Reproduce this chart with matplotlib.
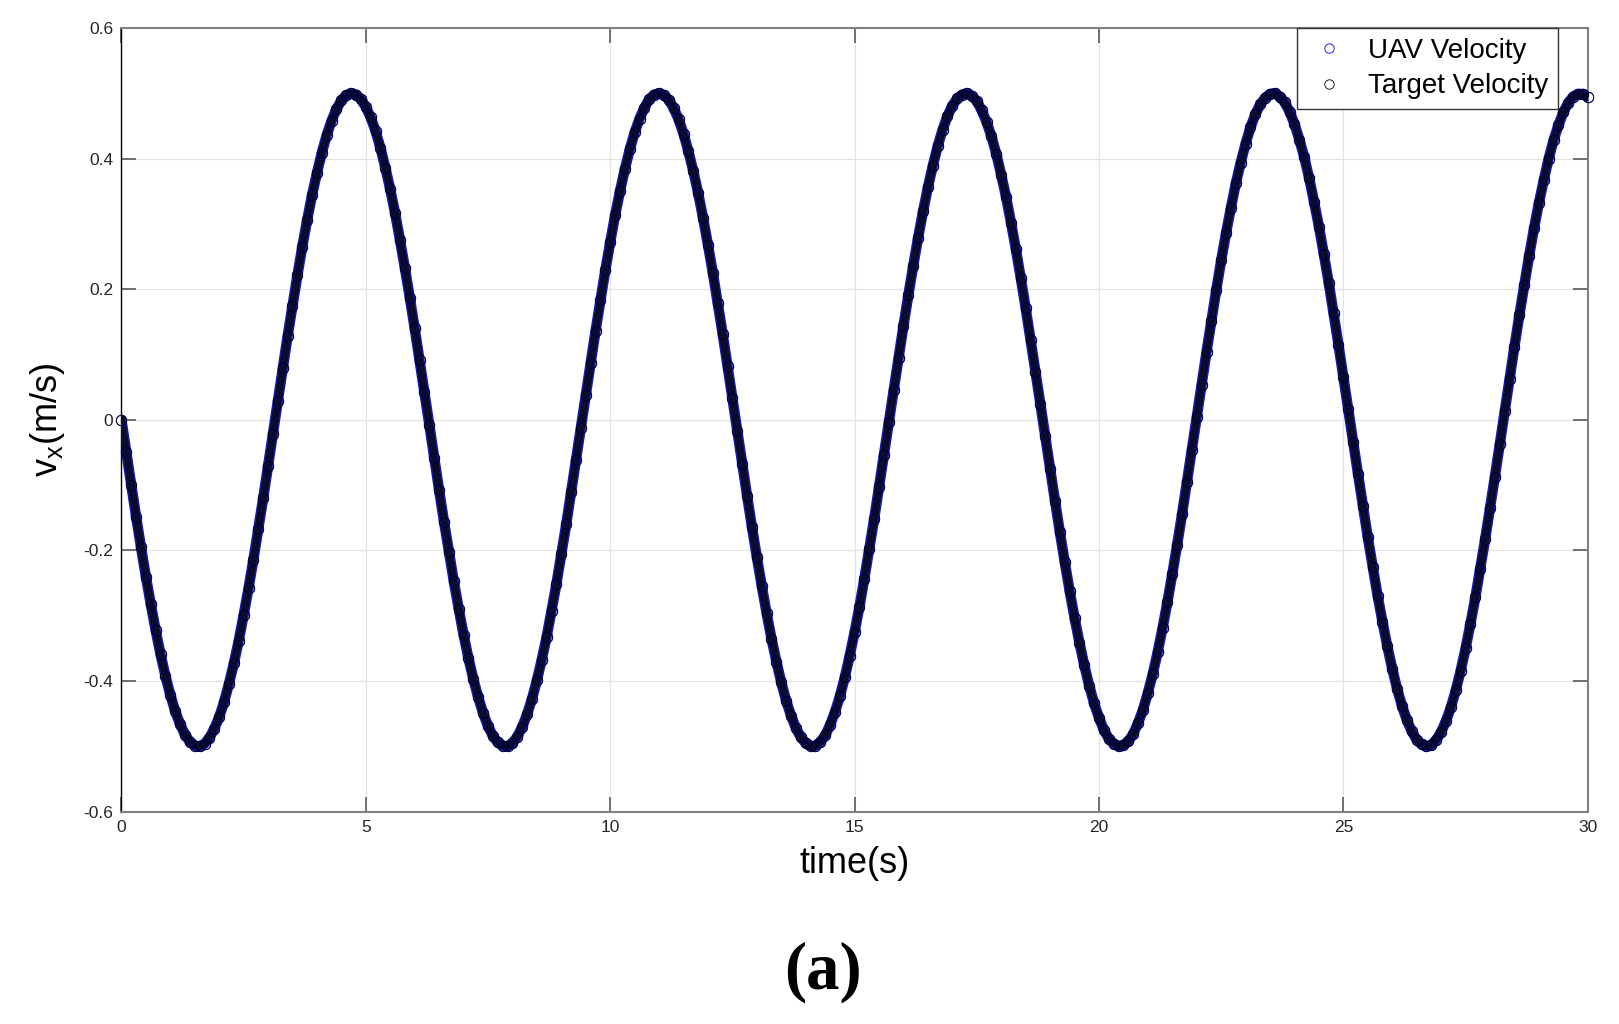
import numpy as np
import matplotlib
matplotlib.use("Agg")
import matplotlib.pyplot as plt

plt.rcParams['font.family'] = ['Liberation Sans', 'DejaVu Sans']
plt.rcParams['mathtext.default'] = 'regular'

# x velocity (m/s) every 0.1 s, t = 0 ... 30 s
target_vx = [
    # 0.0 - 6.2 s
    0.000, -0.050, -0.099, -0.148, -0.195, -0.240, -0.282, -0.322, -0.359, -0.392,
    -0.421, -0.446, -0.466, -0.482, -0.493, -0.499, -0.500, -0.496, -0.487, -0.473,
    -0.455, -0.432, -0.404, -0.373, -0.338, -0.299, -0.258, -0.214, -0.167, -0.120,
    -0.071, -0.021, 0.029, 0.079, 0.128, 0.175, 0.221, 0.265, 0.306, 0.344,
    0.378, 0.409, 0.436, 0.458, 0.476, 0.489, 0.497, 0.500, 0.498, 0.491,
    0.479, 0.463, 0.442, 0.416, 0.386, 0.353, 0.316, 0.275, 0.232, 0.187,
    0.140, 0.091, 0.042,
    # 6.3 - 12.5 s
    -0.008, -0.058, -0.108, -0.156, -0.202, -0.247, -0.289, -0.329, -0.365, -0.397,
    -0.425, -0.449, -0.469, -0.484, -0.494, -0.499, -0.500, -0.495, -0.485, -0.470,
    -0.451, -0.427, -0.399, -0.367, -0.332, -0.292, -0.251, -0.206, -0.160, -0.111,
    -0.062, -0.012, 0.038, 0.087, 0.136, 0.183, 0.229, 0.272, 0.313, 0.350,
    0.384, 0.414, 0.440, 0.461, 0.478, 0.491, 0.498, 0.500, 0.497, 0.490,
    0.477, 0.460, 0.438, 0.411, 0.381, 0.347, 0.309, 0.268, 0.225, 0.179,
    0.132, 0.083, 0.033,
    # 12.6 - 18.8 s
    -0.017, -0.067, -0.116, -0.164, -0.210, -0.254, -0.296, -0.335, -0.370, -0.402,
    -0.430, -0.453, -0.472, -0.486, -0.495, -0.500, -0.499, -0.493, -0.483, -0.467,
    -0.447, -0.423, -0.394, -0.361, -0.325, -0.286, -0.243, -0.198, -0.152, -0.103,
    -0.054, -0.004, 0.046, 0.095, 0.144, 0.191, 0.236, 0.279, 0.319, 0.356,
    0.389, 0.419, 0.444, 0.465, 0.481, 0.492, 0.498, 0.500, 0.496, 0.488,
    0.474, 0.456, 0.434, 0.407, 0.375, 0.341, 0.302, 0.261, 0.217, 0.171,
    0.123, 0.074, 0.025,
    # 18.9 - 25.1 s
    -0.025, -0.075, -0.124, -0.172, -0.218, -0.262, -0.303, -0.341, -0.376, -0.407,
    -0.434, -0.456, -0.475, -0.488, -0.496, -0.500, -0.498, -0.492, -0.481, -0.464,
    -0.444, -0.418, -0.389, -0.356, -0.319, -0.279, -0.236, -0.191, -0.144, -0.095,
    -0.046, 0.004, 0.054, 0.104, 0.152, 0.199, 0.244, 0.286, 0.325, 0.362,
    0.394, 0.423, 0.448, 0.468, 0.483, 0.493, 0.499, 0.500, 0.495, 0.486,
    0.472, 0.453, 0.429, 0.402, 0.370, 0.334, 0.296, 0.254, 0.210, 0.163,
    0.115, 0.066, 0.016,
    # 25.2 - 30.0 s
    -0.034, -0.083, -0.132, -0.180, -0.225, -0.269, -0.309, -0.347, -0.381, -0.412,
    -0.438, -0.460, -0.477, -0.490, -0.497, -0.500, -0.498, -0.490, -0.478, -0.461,
    -0.440, -0.414, -0.384, -0.350, -0.312, -0.272, -0.228, -0.183, -0.135, -0.087,
    -0.037, 0.013, 0.063, 0.112, 0.160, 0.206, 0.251, 0.293, 0.332, 0.367,
    0.400, 0.428, 0.451, 0.471, 0.485, 0.495, 0.499, 0.499, 0.494,
]
# UAV tracks the target; the two curves sit on top of each other
uav_vx = list(target_vx)

t_end = 30
time = np.linspace(0, t_end, len(target_vx))

xticks = [0, 5, 10, 15, 20, 25, 30]
yticks = [-0.6, -0.4, -0.2, 0, 0.2, 0.4, 0.6]
ytick_labels = ['-0.6', '-0.4', '-0.2', '0', '0.2', '0.4', '0.6']

fig = plt.figure(figsize=(16.19, 10.24), dpi=100)
ax = fig.add_axes([0.075, 0.2073, 0.9057, 0.7654])

# thick band under the circles
ax.plot(time, uav_vx, '-', color='#1a1ab0', lw=7.5, solid_capstyle='round', zorder=2)
ax.plot(time, target_vx, '-', color='#0b0b2e', lw=5.5, solid_capstyle='round', zorder=3)

ax.plot(time, uav_vx, 'o', mfc='none', mec='b', ms=7.5, mew=0.6,
        label='UAV Velocity', zorder=4, clip_on=False)
ax.plot(time, target_vx, 'o', mfc='none', mec='k', ms=7.5, mew=0.6,
        label='Target Velocity', zorder=5, clip_on=False)

ax.set_xlim(0, 30)
ax.set_ylim(-0.6, 0.6)
ax.set_xticks(xticks)
ax.set_yticks(yticks)
ax.set_yticklabels(ytick_labels)
ax.grid(True, color='#e3e3e3', lw=0.9)
ax.set_axisbelow(True)

ax.tick_params(direction='in', length=11, width=1.3, color='#666666',
               labelsize=12.5, labelcolor='#262626', pad=6,
               top=True, right=True)
for side in ['top', 'right', 'bottom']:
    ax.spines[side].set_color('#808080')
    ax.spines[side].set_linewidth(1.5)
ax.spines['left'].set_color('k')
ax.spines['left'].set_linewidth(1.0)

ax.set_xlabel('time(s)', fontsize=26, labelpad=8)
ax.set_ylabel('v$_x$(m/s)', fontsize=26, labelpad=12)

leg = ax.legend(loc='upper right', bbox_to_anchor=(0.9797, 1.0), borderaxespad=0,
                fontsize=20, fancybox=False, edgecolor='#333333', framealpha=1,
                handlelength=1.6, handletextpad=0.6, labelspacing=0.35,
                borderpad=0.35, markerscale=0.9)
leg.get_frame().set_linewidth(1.0)

fig.text(0.508, 0.051, '(a)', ha='center', va='center', fontsize=48,
         fontweight='bold', family=['Liberation Serif', 'DejaVu Serif'])

fig.savefig('out.png', dpi=100)
